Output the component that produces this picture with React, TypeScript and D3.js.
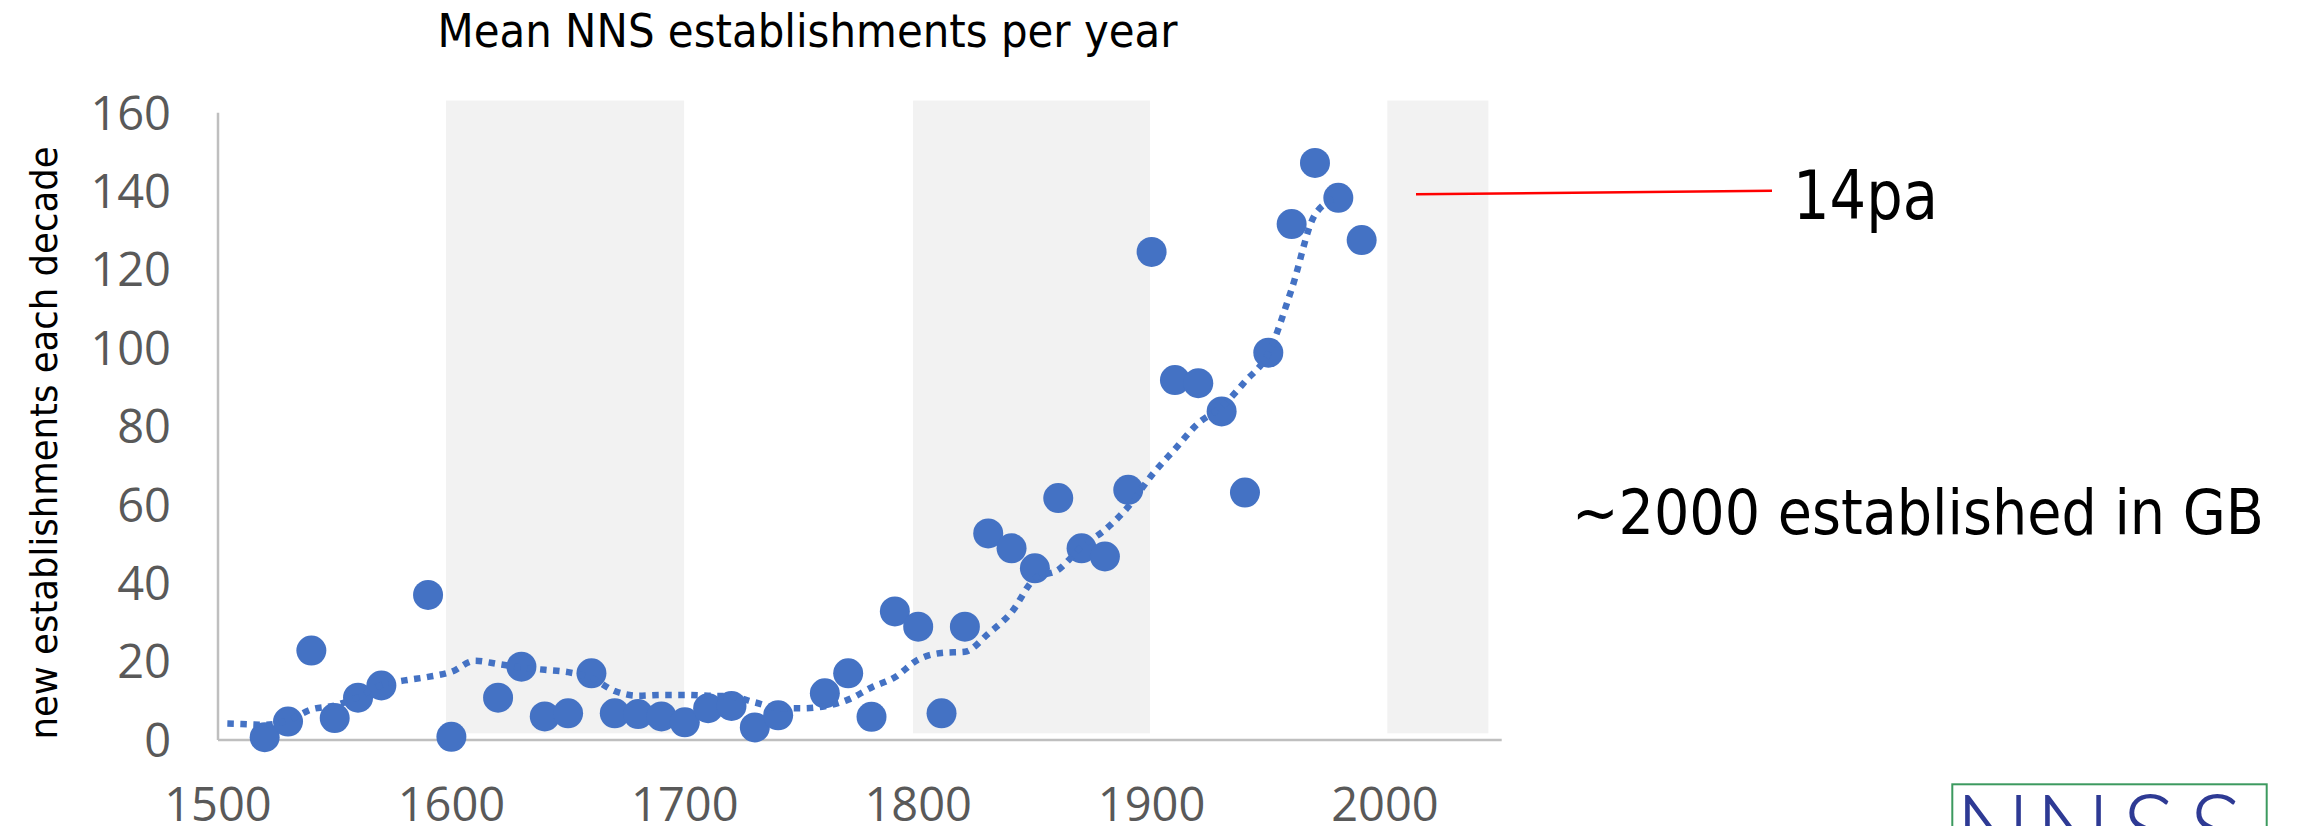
import React from "react";
import * as d3 from "d3";

// ---- data ----
const pointYears = [1520, 1530, 1540, 1550, 1560, 1570, 1590, 1600, 1620, 1630, 1640, 1650, 1660, 1670, 1680, 1690, 1700, 1710, 1720, 1730, 1740, 1760, 1770, 1780, 1790, 1800, 1810, 1820, 1830, 1840, 1850, 1860, 1870, 1880, 1890, 1900, 1910, 1920, 1930, 1940, 1950, 1960, 1970, 1980, 1990];
const pointValues = [0.7, 4.7, 22.8, 5.6, 10.8, 13.9, 37, 0.8, 10.8, 18.7, 6, 6.8, 17, 6.8, 6.6, 6, 4.5, 8.1, 8.7, 3.2, 6.3, 11.9, 17, 5.9, 32.8, 28.9, 6.8, 28.9, 52.7, 48.9, 43.8, 61.7, 48.9, 46.8, 63.8, 124.5, 91.8, 91, 83.8, 63.1, 98.8, 131.6, 147.2, 138.3, 127.5];

const trendYears = [1504, 1510, 1520, 1530, 1540, 1550, 1560, 1570, 1580, 1590, 1600, 1610, 1620, 1630, 1640, 1650, 1660, 1670, 1680, 1690, 1700, 1710, 1720, 1730, 1740, 1750, 1760, 1770, 1780, 1790, 1800, 1810, 1820, 1830, 1840, 1850, 1860, 1870, 1880, 1890, 1900, 1910, 1920, 1930, 1940, 1950, 1960, 1970, 1980];
const trendValues = [4.2, 4.1, 3.9, 5.0, 7.8, 8.8, 11.0, 14.0, 15.2, 16.1, 17.4, 20.2, 19.4, 18.5, 17.9, 17.3, 15.8, 12.5, 11.3, 11.5, 11.5, 11.3, 11.1, 9.6, 8.2, 8.1, 8.6, 10.3, 13.4, 16.0, 20.5, 22.2, 22.5, 27.1, 32.6, 41.2, 43.4, 49.3, 53.6, 59.5, 67.5, 74.2, 80.8, 85.0, 91.4, 98.6, 115, 134, 138.5];

const xTicks = [1500, 1600, 1700, 1800, 1900, 2000];
const yTicks = [0, 20, 40, 60, 80, 100, 120, 140, 160];

const bandStarts = [1597.7, 1797.8, 2001];
const bandEnds = [1699.7, 1899.3, 2044.3];
const bandLow = 1.7;
const bandHigh = 163.1;

const titleText = "Mean NNS establishments per year";
const yAxisTitle = "new establishments each decade";
const rateNote = "14pa";
const totalNote = "~2000 established in GB";
const logoText = "NNSS";

// ---- layout ----
const W = 2297;
const H = 826;
const BLUE = "#4472C4";

export default function App() {
  const x = d3.scaleLinear().domain([1500, 2050]).range([218, 1501.7]);
  const y = d3.scaleLinear().domain([0, 160]).range([740, 112.7]);

  const trend = trendYears.map((yr, i) => [yr, trendValues[i]] as [number, number]);
  const line = d3
    .line<[number, number]>()
    .x((d) => x(d[0]))
    .y((d) => y(d[1]))
    .curve(d3.curveMonotoneX);

  const tickFont = "'Open Sans', sans-serif";
  const textFont = "'DejaVu Sans', Verdana, sans-serif";

  return (
    <svg
      width={W}
      height={H}
      viewBox={`0 0 ${W} ${H}`}
      style={{ position: "absolute", left: 0, top: 0, background: "#fff" }}
    >
      <rect x={0} y={0} width={W} height={H} fill="#ffffff" />

      {/* grey bands */}
      {bandStarts.map((s, i) => (
        <rect
          key={"b" + i}
          x={x(s)}
          y={y(bandHigh)}
          width={x(bandEnds[i]) - x(s)}
          height={y(bandLow) - y(bandHigh)}
          fill="#F2F2F2"
        />
      ))}

      {/* axes */}
      <line x1={x(1500)} x2={x(2050)} y1={y(0)} y2={y(0)} stroke="#BFBFBF" strokeWidth={2.5} />
      <line x1={x(1500)} x2={x(1500)} y1={y(0)} y2={y(160)} stroke="#BFBFBF" strokeWidth={2.5} />

      {/* y tick labels */}
      {yTicks.map((t) => (
        <text
          key={"y" + t}
          x={171}
          y={y(t) + 16.8}
          textAnchor="end"
          fontFamily={tickFont}
          fontSize={47}
          fill="#595959"
        >
          {t}
        </text>
      ))}

      {/* x tick labels */}
      {xTicks.map((t) => (
        <text
          key={"x" + t}
          x={x(t)}
          y={821}
          textAnchor="middle"
          fontFamily={tickFont}
          fontSize={47}
          fill="#595959"
        >
          {t}
        </text>
      ))}

      {/* points */}
      {pointYears.map((yr, i) => (
        <circle key={"p" + yr} cx={x(yr)} cy={y(pointValues[i])} r={15} fill={BLUE} />
      ))}

      {/* trend line */}
      <path
        d={line(trend) || ""}
        fill="none"
        stroke={BLUE}
        strokeWidth={6.5}
        strokeDasharray="6.5 6.5"
      />

      {/* title */}
      <text
        x={437.5}
        y={47}
        fontFamily={textFont}
        fontSize={47}
        fill="#000"
        textLength={740}
        lengthAdjust="spacingAndGlyphs"
      >
        {titleText}
      </text>

      {/* y axis title */}
      <text
        transform={`translate(57, 443) rotate(-90)`}
        textAnchor="middle"
        fontFamily={textFont}
        fontSize={38}
        fill="#000"
        textLength={593}
        lengthAdjust="spacingAndGlyphs"
      >
        {yAxisTitle}
      </text>

      {/* red annotation line */}
      <line x1={1416} y1={194.3} x2={1772} y2={190.7} stroke="#FF0000" strokeWidth={2.5} />
      <text
        x={1793}
        y={219}
        fontFamily={textFont}
        fontSize={68}
        fill="#000"
        textLength={145}
        lengthAdjust="spacingAndGlyphs"
      >
        {rateNote}
      </text>

      <text
        x={1572}
        y={534}
        fontFamily={textFont}
        fontSize={63}
        fill="#000"
        textLength={692}
        lengthAdjust="spacingAndGlyphs"
      >
        {totalNote}
      </text>

      {/* logo */}
      <rect x={1952.3} y={784.3} width={314.4} height={120} fill="#fff" stroke="#3C9A5F" strokeWidth={2} />
      <text
        x="1954.5 2034.5 2121.5 2188.5"
        y={868}
        fontFamily="Lato, 'Open Sans', sans-serif"
        fontWeight={300}
        fontSize={102}
        fill="#2E3A94"
      >
        {logoText}
      </text>
    </svg>
  );
}
